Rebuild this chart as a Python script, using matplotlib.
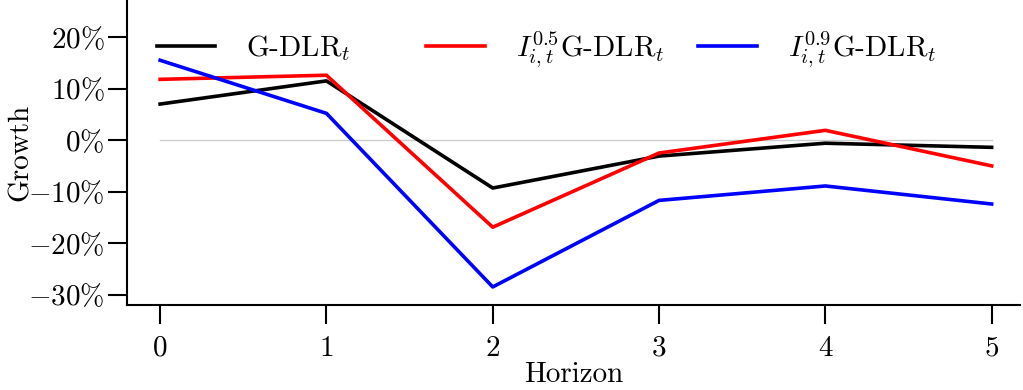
import matplotlib
matplotlib.use("Agg")
import matplotlib.pyplot as plt

plt.rcParams['font.family'] = 'serif'
plt.rcParams['font.serif'] = ['cmr10']
plt.rcParams['mathtext.fontset'] = 'cm'
plt.rcParams['axes.formatter.use_mathtext'] = True

# Data (growth in %)
horizon = [0, 1, 2, 3, 4, 5]
gdlr = [7.0, 11.5, -9.3, -3.1, -0.6, -1.4]
gdlr_05 = [11.8, 12.6, -16.9, -2.5, 1.9, -5.0]
gdlr_09 = [15.5, 5.2, -28.5, -11.7, -8.9, -12.4]

ytick_vals = [-30, -20, -10, 0, 10, 20]
ytick_labels = [r"$-30\%$", r"$-20\%$", r"$-10\%$", r"$0\%$", r"$10\%$", r"$20\%$"]

fig = plt.figure(figsize=(10.23, 3.9), dpi=100)
ax = fig.add_axes([0.124, 0.218, 0.873, 0.782])

ax.plot(horizon, [0] * len(horizon), color="#cccccc", linewidth=1)
ax.plot(horizon, gdlr, color="black", linewidth=2.6, label=r"G-DLR$_t$     ")
ax.plot(horizon, gdlr_05, color="red", linewidth=2.6, label=r"$I_{i,t}^{0.5}$G-DLR$_t$")
ax.plot(horizon, gdlr_09, color="blue", linewidth=2.6, label=r"$I_{i,t}^{0.9}$G-DLR$_t$")

ax.set_xlim(-0.2, 5.17)
ax.set_ylim(-32, 27.2)
ax.set_xticks(horizon)
ax.set_xticklabels([str(h) for h in horizon])
ax.set_yticks(ytick_vals)
ax.set_yticklabels(ytick_labels)

for s in ["top", "right"]:
    ax.spines[s].set_visible(False)
for s in ["left", "bottom"]:
    ax.spines[s].set_linewidth(1.5)

ax.tick_params(labelsize=21, length=14, width=1.5, pad=2)
ax.tick_params(axis="x", pad=8)
ax.set_xlabel("Horizon", fontsize=21, labelpad=0)
ax.set_ylabel("Growth", fontsize=21)
ax.yaxis.set_label_coords(-0.104, 0.5)

ax.legend(loc="upper left", bbox_to_anchor=(0.0045, 0.99), ncol=3, frameon=False,
          fontsize=21, handlelength=2.0, columnspacing=1.17, handletextpad=1.06)

fig.savefig("out.png", dpi=100)
